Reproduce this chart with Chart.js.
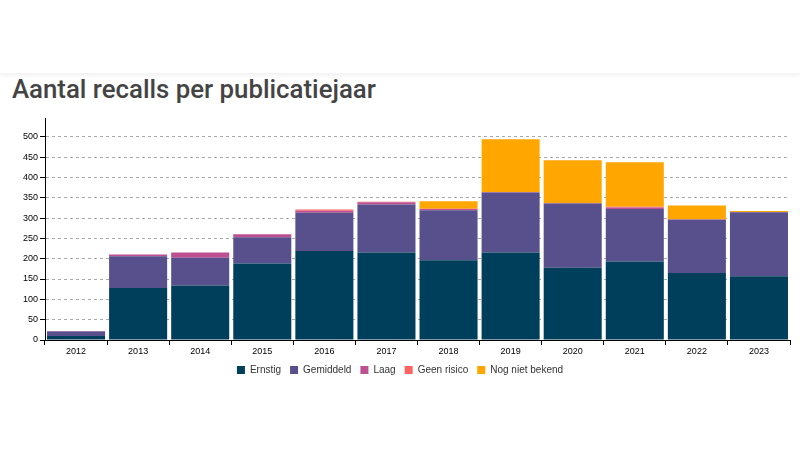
<!DOCTYPE html>
<html>
<head>
<meta charset="utf-8">
<script src="https://cdn.jsdelivr.net/npm/chart.js@4.4.0/dist/chart.umd.min.js"></script>
<style>
  body { margin: 0; background: #fff; width: 800px; height: 455px; overflow: hidden; position: relative; }
  .header { position: absolute; left: 0; top: 0; width: 800px; height: 73px; background: #fff; box-shadow: 0 2px 5px rgba(0,0,0,0.07); }
  h1 { position: absolute; left: 12px; top: 74px; margin: 0; font: 500 25.8px Roboto, sans-serif; color: #444; }
  .wrap { position: absolute; left: 0; top: 110px; width: 800px; height: 275px; }
</style>
</head>
<body>
<div class="header"></div>
<h1>Aantal recalls per publicatiejaar</h1>
<div class="wrap"><canvas id="recalls"></canvas></div>
<script>
const years = ["2012", "2013", "2014", "2015", "2016", "2017", "2018", "2019", "2020", "2021", "2022", "2023"];
const ernstig    = [10, 128, 134, 188, 219, 215, 196, 215, 178, 193, 165, 157];
const gemiddeld  = [11,  78,  68,  65,  94, 118, 123, 148, 158, 129, 131, 157];
const laag       = [ 1,   4,  13,   7,   5,   6,   3,   1,   1,   4,   1,   1];
const geenRisico = [ 0,   0,   0,   0,   3,   1,   1,   0,   0,   2,   0,   0];
const nogNiet    = [ 0,   0,   0,   0,   0,   0,  18, 130, 105, 109,  34,   2];

const tickFont = { family: "'Liberation Sans', Arial, sans-serif", size: 9 };

const ctx = document.getElementById("recalls");
const recallChart = new Chart(ctx, {
  type: "bar",
  data: {
    labels: years,
    datasets: [
      { label: "Ernstig", data: ernstig, backgroundColor: "#003f5c" },
      { label: "Gemiddeld", data: gemiddeld, backgroundColor: "#58508d" },
      { label: "Laag", data: laag, backgroundColor: "#bc5090" },
      { label: "Geen risico", data: geenRisico, backgroundColor: "#ff6361" },
      { label: "Nog niet bekend", data: nogNiet, backgroundColor: "#ffa600" },
    ],
  },
  options: {
    responsive: true,
    maintainAspectRatio: false,
    animation: false,
    datasets: { bar: { barPercentage: 0.935, categoryPercentage: 1 } },
    layout: { padding: { top: 8, right: 10, left: 10, bottom: 0 } },
    plugins: {
      tooltip: { enabled: false },
      legend: {
        position: "bottom",
        labels: {
          boxWidth: 8,
          boxHeight: 8,
          padding: 9,
          color: "#333",
          font: { family: "'Liberation Sans', Arial, sans-serif", size: 10 },
        },
      },
    },
    scales: {
      x: {
        stacked: true,
        grid: { offset: true, drawOnChartArea: false, tickLength: 5, tickColor: "#000" },
        border: { color: "#000" },
        ticks: { color: "#000", font: tickFont, padding: 1, maxRotation: 0 },
        afterFit: (axis) => { axis.height = 16; },
      },
      y: {
        stacked: true,
        min: 0,
        max: 546,
        grid: { color: "#aaa", tickColor: "#000", tickLength: 5 },
        border: { color: "#000", dash: [3, 3] },
        ticks: { stepSize: 50, includeBounds: false, color: "#000", font: tickFont, padding: 2 },
        afterFit: (axis) => { axis.width = 35; },
      },
    },
  },
});
</script>
</body>
</html>
